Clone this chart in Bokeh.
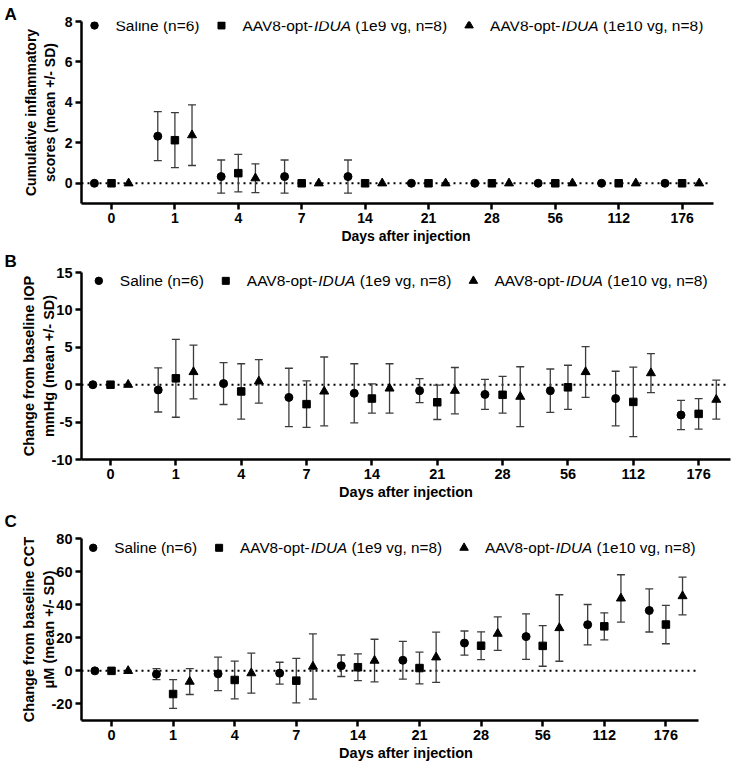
from bokeh.plotting import figure
from bokeh.models import FixedTicker, Label, Range1d, Title
from bokeh.layouts import column
from bokeh.embed import file_html
from bokeh.resources import INLINE

# ---------------- data ----------------
days = ["0", "1", "4", "7", "14", "21", "28", "56", "112", "176"]

# Panel A: cumulative inflammatory scores
a_saline_mean = [0, 2.33, 0.33, 0.33, 0.33, 0, 0, 0, 0, 0]
a_saline_sd = [0, 1.21, 0.82, 0.82, 0.82, 0, 0, 0, 0, 0]
a_1e9_mean = [0, 2.13, 0.50, 0, 0, 0, 0, 0, 0, 0]
a_1e9_sd = [0, 1.36, 0.93, 0, 0, 0, 0, 0, 0, 0]
a_1e10_mean = [0, 2.38, 0.25, 0, 0, 0, 0, 0, 0, 0]
a_1e10_sd = [0, 1.50, 0.71, 0, 0, 0, 0, 0, 0, 0]

# Panel B: change in IOP
b_saline_mean = [0, -0.7, 0.15, -1.7, -1.15, -0.8, -1.3, -0.8, -1.85, -4.05]
b_saline_sd = [0, 2.95, 2.8, 3.9, 3.95, 1.6, 2.0, 2.9, 3.65, 1.95]
b_1e9_mean = [0, 0.85, -0.9, -2.6, -1.85, -2.35, -1.35, -0.35, -2.3, -3.9]
b_1e9_sd = [0, 5.2, 3.7, 3.1, 1.95, 2.3, 2.45, 2.95, 4.65, 2.05]
b_1e10_mean = [0, 1.7, 0.45, -0.9, -0.5, -0.8, -1.6, 1.7, 1.55, -2.0]
b_1e10_sd = [0, 3.6, 2.9, 4.6, 3.3, 3.1, 4.0, 3.4, 2.6, 2.6]

# Panel C: change in CCT
c_saline_mean = [0, -2.0, -1.8, -1.4, 3.1, 6.4, 16.8, 20.7, 27.9, 36.5]
c_saline_sd = [0, 3.3, 10.1, 6.6, 6.5, 11.4, 7.3, 13.8, 12.2, 13.0]
c_1e9_mean = [0, -14.0, -5.5, -5.9, 2.2, 1.7, 15.2, 15.1, 26.9, 28.0]
c_1e9_sd = [0, 8.7, 11.4, 13.5, 8.1, 9.6, 8.4, 12.3, 8.2, 11.6]
c_1e10_mean = [0, -6.5, -1.4, 2.6, 6.2, 8.2, 22.5, 25.9, 43.8, 45.2]
c_1e10_sd = [0, 7.8, 12.1, 19.7, 12.9, 15.2, 10.1, 20.1, 14.3, 11.4]

legend_plain = ["Saline (n=6)", "AAV8-opt-", "AAV8-opt-"]
legend_italic = ["", "IDUA", "IDUA"]
legend_tail = ["", "(1e9 vg, n=8)", "(1e10 vg, n=8)"]

a_ylabel = "Cumulative inflammatory\nscores (mean +/- SD)"
b_ylabel = "Change from baseline IOP\nmmHg (mean +/- SD)"
c_ylabel = "Change from baseline CCT\n\u03bcM (mean +/- SD)"
a_yticks = [0, 2, 4, 6, 8]
b_yticks = [-10, -5, 0, 5, 10, 15]
c_yticks = [-20, 0, 20, 40, 60, 80]
xlabel = "Days after injection"

# ---------------- style ----------------
FONT = "Liberation Sans"
MARKERS = ["circle", "square", "triangle"]
MSIZE = [8, 7.5, 9]
OFFSETS = [-0.27, 0.0, 0.27]
ERR_COLOR = "#3c3c3c"
WIDTH = 736
FRAME_LEFT = 81
FRAME_RIGHT = 730

ARIAL_W = {'A': 667, 'V': 667, '8': 556, '-': 333, 'o': 556, 'p': 556, 't': 278,
           'I': 278, 'D': 722, 'U': 722, ' ': 278, '(': 333, '1': 556, 'e': 556,
           '9': 556, '0': 556, 'v': 500, 'g': 556, ',': 278, 'n': 556, '=': 584,
           ')': 333, 'S': 667, 'a': 556, 'l': 222, 'i': 222, '6': 556}


def text_w(s, size):
    return sum(ARIAL_W.get(c, 556) for c in s) / 1000.0 * size


def make_panel(letter, fig_h, top, frame_h, zero_px, step_px, axis_end_px, dots_end_px,
               yr, yticks, series, ylabel, ylab_standoff, legend_x, legend_dy,
               letter_standoff, fsize, lsize):
    left = FRAME_LEFT
    right_border = WIDTH - FRAME_RIGHT
    bottom = fig_h - top - frame_h
    frame_w = FRAME_RIGHT - FRAME_LEFT
    xr = ((FRAME_LEFT - zero_px) / step_px, (FRAME_RIGHT - zero_px) / step_px)
    x_axis_end = (axis_end_px - zero_px) / step_px
    x_dots_end = (dots_end_px - zero_px) / step_px

    p = figure(width=WIDTH, height=fig_h, x_range=Range1d(*xr), y_range=Range1d(*yr),
               output_backend="svg", toolbar_location=None,
               min_border_left=left, min_border_right=right_border,
               min_border_top=top, min_border_bottom=bottom,
               outline_line_color=None, background_fill_color="white",
               border_fill_color="white")
    p.grid.visible = False

    def dx(px):  # page x -> data x
        return xr[0] + (px - left) / frame_w * (xr[1] - xr[0])

    def dy(py):  # y within figure -> data y
        return yr[1] - (py - top) / frame_h * (yr[1] - yr[0])

    p.title = Title(text=letter, align="left", offset=4 - left, standoff=letter_standoff,
                    text_font=FONT, text_font_size="17px", text_font_style="bold",
                    text_color="black", vertical_align="bottom")

    for ax in (p.xaxis[0], p.yaxis[0]):
        ax.axis_line_width = 2.5
        ax.axis_line_color = "black"
        ax.major_tick_line_width = 2.5
        ax.major_tick_line_color = "black"
        ax.major_tick_out = 6
        ax.major_tick_in = 0
        ax.minor_tick_line_color = None
        ax.major_label_text_font = FONT
        ax.major_label_text_font_style = "bold"
        ax.major_label_text_font_size = f"{fsize}px"
        ax.major_label_text_color = "black"
        ax.major_label_standoff = 3
        ax.axis_label_text_font = FONT
        ax.axis_label_text_font_style = "bold"
        ax.axis_label_text_font_size = f"{fsize}px"
        ax.axis_label_text_color = "black"
    p.xaxis.ticker = FixedTicker(ticks=list(range(len(days))))
    p.xaxis.major_label_overrides = {i: d for i, d in enumerate(days)}
    p.xaxis.bounds = (xr[0], x_axis_end)
    p.yaxis.ticker = FixedTicker(ticks=yticks)
    p.yaxis.major_label_overrides = {t: str(t) for t in yticks}
    p.xaxis.axis_label = xlabel
    p.xaxis.axis_label_standoff = 2
    p.yaxis.axis_label = ylabel
    p.yaxis.axis_label_standoff = ylab_standoff

    # dotted zero reference line
    p.segment(x0=[xr[0]], y0=[0], x1=[x_dots_end], y1=[0], line_color="black",
              line_width=2, line_dash="2 4")

    for k, (mean, sd) in enumerate(series):
        xs = [i + OFFSETS[k] for i in range(len(days))]
        ex = [x for x, s in zip(xs, sd) if s > 0]
        lo = [m - s for m, s in zip(mean, sd) if s > 0]
        hi = [m + s for m, s in zip(mean, sd) if s > 0]
        if ex:
            p.segment(x0=ex, y0=lo, x1=ex, y1=hi, line_color=ERR_COLOR, line_width=1.3)
            p.scatter(x=ex + ex, y=lo + hi, marker="dash", size=8,
                      line_color=ERR_COLOR, line_width=1.3)
        p.scatter(x=xs, y=mean, marker=MARKERS[k], size=MSIZE[k],
                  fill_color="black", line_color="black")

    # legend (inside the frame, top)
    ly = top + legend_dy
    cx = legend_x
    for k in range(3):
        p.scatter(x=[dx(cx)], y=[dy(ly)], marker=MARKERS[k], size=MSIZE[k] - 0.5,
                  fill_color="black", line_color="black")
        tx = cx + 21
        pieces = [(legend_plain[k], "normal", 0), (legend_italic[k], "italic", 0),
                  (legend_tail[k], "normal", text_w(" ", lsize))]
        for txt, style, pre in pieces:
            if not txt:
                continue
            tx += pre
            p.add_layout(Label(x=dx(tx), y=dy(ly), text=txt, text_font=FONT,
                               text_font_size=f"{lsize}px", text_font_style=style,
                               text_color="black", text_align="left",
                               text_baseline="middle"))
            tx += text_w(txt, lsize)
        cx = tx + 22
    return p


pa = make_panel("A", 246, 21, 184, 111, 63.4, 713, 708, (-1, 8), a_yticks,
                [(a_saline_mean, a_saline_sd), (a_1e9_mean, a_1e9_sd),
                 (a_1e10_mean, a_1e10_sd)],
                a_ylabel, 4, 94, 4, -4, 14, 15.5)
pb = make_panel("B", 256, 26, 188, 110, 65.35, 730, 728, (-10, 15), b_yticks,
                [(b_saline_mean, b_saline_sd), (b_1e9_mean, b_1e9_sd),
                 (b_1e10_mean, b_1e10_sd)],
                b_ylabel, -8, 98.3, 8.4, 4, 14.5, 15.5)
pc = make_panel("C", 261, 36, 182, 111, 61.6, 698, 697, (-30, 80), c_yticks,
                [(c_saline_mean, c_saline_sd), (c_1e9_mean, c_1e9_sd),
                 (c_1e10_mean, c_1e10_sd)],
                c_ylabel, -8, 92.7, 9.3, 15, 14.5, 15.3)

layout = column(pa, pb, pc, spacing=0)
open("out.html", "w").write(file_html(layout, INLINE))
